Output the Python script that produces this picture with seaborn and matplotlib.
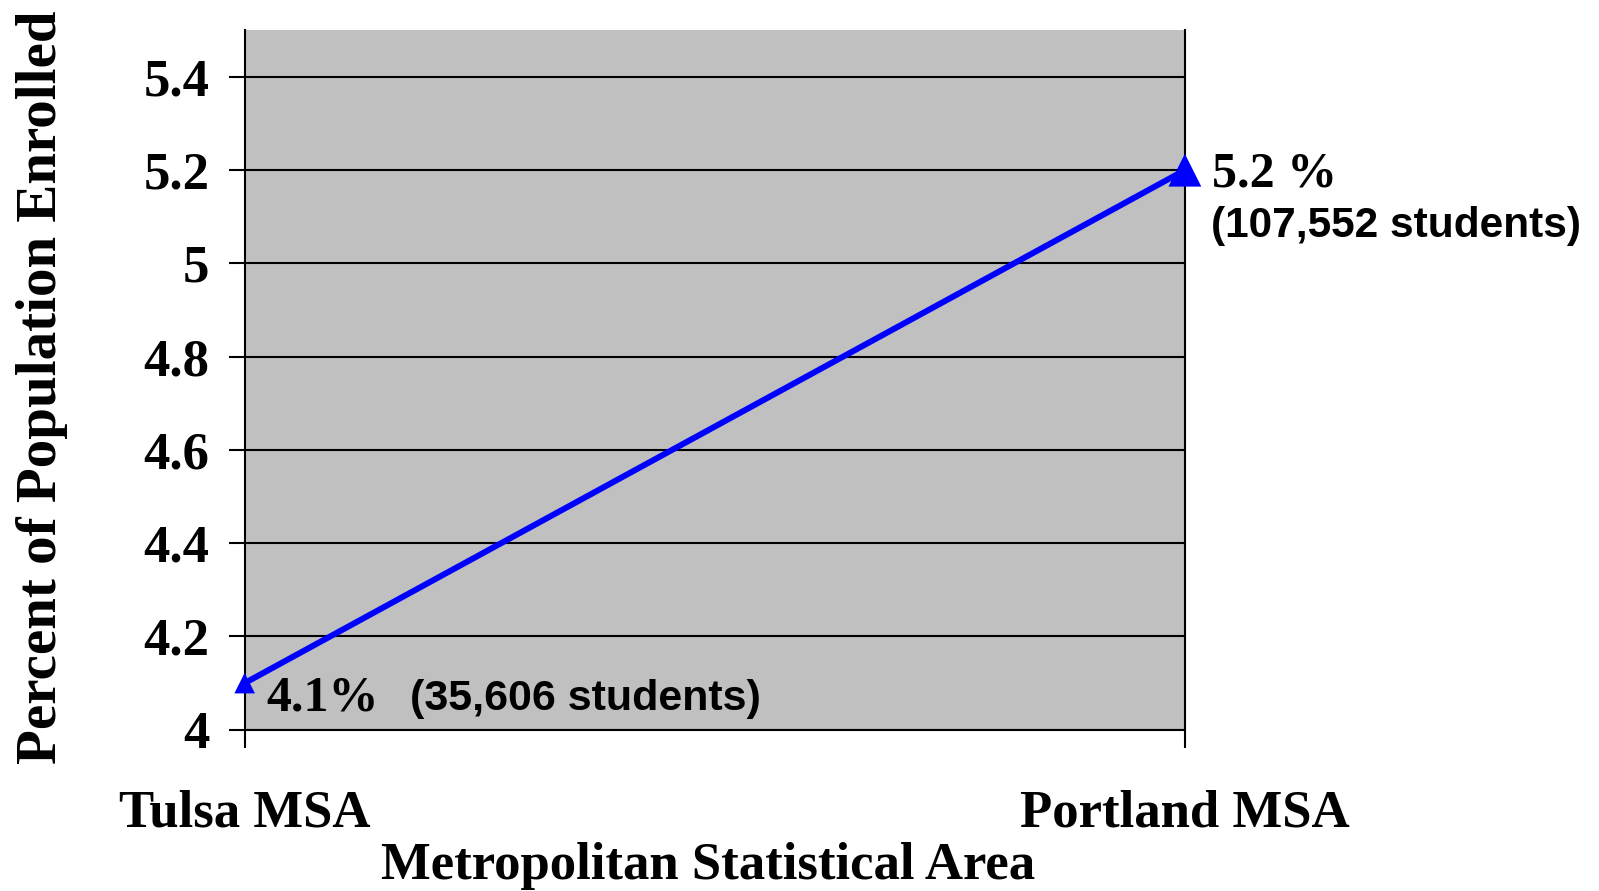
import matplotlib
matplotlib.use("Agg")
import matplotlib.pyplot as plt
import seaborn as sns
import pandas as pd

# Enrollment share by metropolitan area
areas = ["Tulsa MSA", "Portland MSA"]
percent_enrolled = [4.1, 5.2]
students = [35606, 107552]
y_ticks = [4, 4.2, 4.4, 4.6, 4.8, 5, 5.2, 5.4]
y_tick_labels = ["4", "4.2", "4.4", "4.6", "4.8", "5", "5.2", "5.4"]

df = pd.DataFrame({"pos": range(len(areas)), "pct": percent_enrolled})

sns.set_theme(style="white")
plt.rcParams.update({
    "text.color": "black",
    "axes.labelcolor": "black",
    "xtick.color": "black",
    "ytick.color": "black",
})
serif = "Liberation Serif"
sans = "Liberation Sans"

fig = plt.figure(figsize=(15.99, 8.91), dpi=100)
ax = fig.add_axes([0.153, 0.181, 0.588, 0.785])
ax.set_facecolor("#C0C0C0")

sns.lineplot(data=df, x="pos", y="pct", ax=ax, color="#0000FF",
             linewidth=4.3, zorder=3)
ax.scatter(df["pos"], df["pct"], marker="^", s=[220, 560], color="#0000FF",
           clip_on=False, zorder=4, linewidths=0)

ax.set_xlim(0, 1)
ax.set_ylim(4, 5.5)
ax.set_yticks(y_ticks)
ax.set_yticklabels(y_tick_labels, fontfamily=serif, fontweight="bold", fontsize=38)
ax.set_xticks(df["pos"])
ax.set_xticklabels(areas, fontfamily=serif, fontweight="bold", fontsize=38)

ax.yaxis.grid(True, color="black", linewidth=1.5)
ax.xaxis.grid(False)
for side in ["left", "right", "bottom"]:
    ax.spines[side].set_visible(True)
    ax.spines[side].set_color("black")
    ax.spines[side].set_linewidth(1.5)
ax.spines["top"].set_visible(False)

ax.tick_params(axis="y", direction="out", length=11.5, width=1.5, color="black",
               pad=14, left=True)
ax.tick_params(axis="x", direction="out", length=13, width=1.5, color="black",
               pad=30, bottom=True)

ax.set_ylabel("Percent of Population Enrolled", fontfamily=serif,
              fontweight="bold", fontsize=41)
ax.yaxis.set_label_coords(-0.188, 0.49)
ax.set_xlabel("Metropolitan Statistical Area", fontfamily=serif,
              fontweight="bold", fontsize=38)
ax.xaxis.set_label_coords(0.4926, -0.16)

# Value annotations next to each point
seps = ["", " "]
pct_text = [f"{v:.1f}{s}%" for v, s in zip(percent_enrolled, seps)]
count_text = [f"({n:,} students)" for n in students]

ax.annotate(pct_text[0], xy=(0, percent_enrolled[0]), xytext=(22, -27),
            textcoords="offset pixels", ha="left", va="baseline",
            fontfamily=serif, fontweight="bold", fontsize=36)
ax.annotate(count_text[0], xy=(0, percent_enrolled[0]), xytext=(165, -27),
            textcoords="offset pixels", ha="left", va="baseline",
            fontfamily=sans, fontweight="bold", fontsize=31)
ax.annotate(pct_text[1], xy=(1, percent_enrolled[1]), xytext=(27, -16),
            textcoords="offset pixels", ha="left", va="baseline",
            fontfamily=serif, fontweight="bold", fontsize=36, annotation_clip=False)
ax.annotate(count_text[1], xy=(1, percent_enrolled[1]), xytext=(26, -67),
            textcoords="offset pixels", ha="left", va="baseline",
            fontfamily=sans, fontweight="bold", fontsize=30.5, annotation_clip=False)

fig.savefig("out.png", dpi=100, facecolor="white")
